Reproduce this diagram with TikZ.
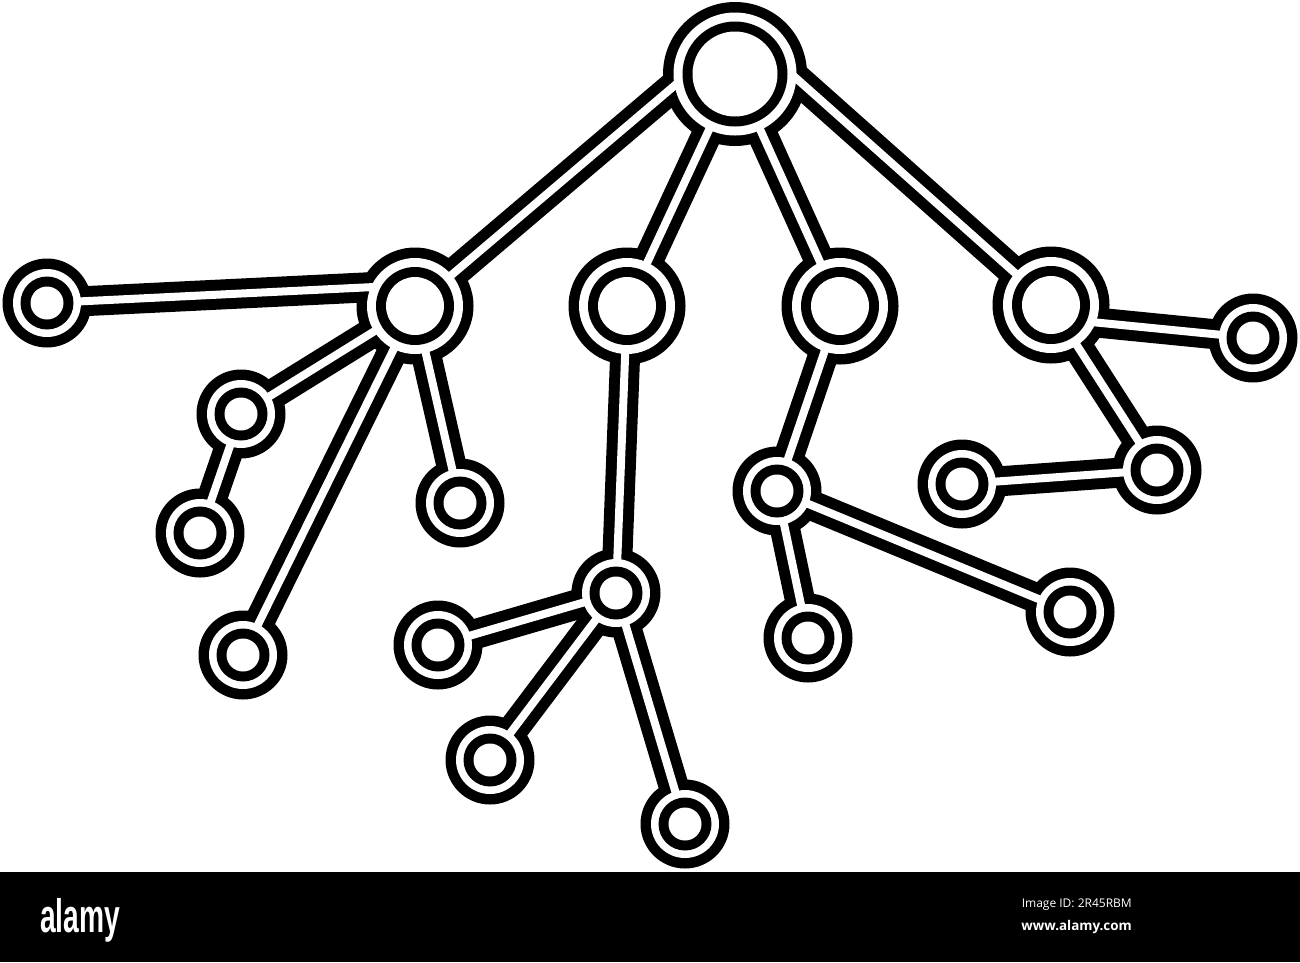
\documentclass[tikz,border=0pt]{standalone}
\usepackage{fontspec}
\newfontfamily\logofont{Liberation Sans}
\newfontfamily\idfont{Open Sans}
\tikzset{
  edgeouter/.style={line width=30pt, draw=black},
  edgeinner/.style={line width=8pt, draw=white},
}
\begin{document}
\begin{tikzpicture}[x=1pt,y=-1pt]
\useasboundingbox (0,0) rectangle (1300,962);
\fill[white] (0,0) rectangle (1300,962);
% nodes
\coordinate (root) at (735,74);
\coordinate (L1) at (415,306);
\coordinate (M1) at (627,306);
\coordinate (M2) at (840,306);
\coordinate (R1) at (1051,305);
\coordinate (a1) at (47,303);
\coordinate (a2) at (241,414);
\coordinate (a3) at (200,533);
\coordinate (a4) at (243,655);
\coordinate (a5) at (460,503);
\coordinate (m1) at (616,593);
\coordinate (m2) at (438,645);
\coordinate (m3) at (490,760);
\coordinate (m4) at (685,824);
\coordinate (n1) at (777,491);
\coordinate (n2) at (808,638);
\coordinate (n3) at (1070,612);
\coordinate (r2) at (1253,338);
\coordinate (r3) at (1157,470);
\coordinate (r4) at (962,484);
% connector ends inside nodes
\coordinate (rootW) at (700,64);
\coordinate (rootE) at (770,55);
\coordinate (L1w) at (415,285);
\coordinate (R1s) at (1051,318);
\def\EdgeList{rootW/L1, root/M1, root/M2, rootE/R1, L1w/a1, L1/a2, a2/a3, L1/a4, L1/a5, M1/m1, m1/m2, m1/m3, m1/m4, M2/n1, n1/n2, n1/n3, R1s/r2, R1/r3, r3/r4}
\def\NodeList{root/72/42.5, L1/58.5/29, M1/58.5/29, M2/58.5/29, R1/58.5/29, a1/44.5/16.5, a2/44.5/16.5, a3/44.5/16.5, a4/44.5/16.5, a5/44.5/16.5, m1/44.5/16.5, m2/44.5/16.5, m3/44.5/16.5, m4/44.5/16.5, n1/44.5/16.5, n2/44.5/16.5, n3/44.5/16.5, r2/44.5/16.5, r3/44.5/16.5, r4/44.5/16.5}
% layer 1: black connectors and outer disks
\foreach \a/\b in \EdgeList { \draw[edgeouter] (\a) -- (\b); }
\foreach \n/\R/\r in \NodeList { \fill[black] (\n) circle (\R pt); }
% layer 2: white channels and gaps
\foreach \a/\b in \EdgeList { \draw[edgeinner] (\a) -- (\b); }
\foreach \n/\R/\r in \NodeList { \fill[white] (\n) circle (\R pt - 10.5pt); }
% layer 3: inner rings
\foreach \n/\R/\r in \NodeList { \fill[black] (\n) circle (\r pt + 10pt); \fill[white] (\n) circle (\r pt); }
% bottom bar
\fill[black] (0,872) rectangle (1300,962);
\node[anchor=base west, inner sep=0pt, text=white] (logo) at (40,932)
  {\scalebox{0.6}[1]{\logofont\bfseries\fontsize{47}{47}\selectfont alamy}};
\node[anchor=base east, inner sep=0pt, text=white] (imgid) at (1132,907)
  {\idfont\fontsize{12}{12}\selectfont Image ID: 2R45RBM};
\node[anchor=base east, inner sep=0pt, text=white] (url) at (1132,930)
  {\idfont\bfseries\fontsize{13.4}{13.4}\selectfont www.alamy.com};
\end{tikzpicture}
\end{document}
